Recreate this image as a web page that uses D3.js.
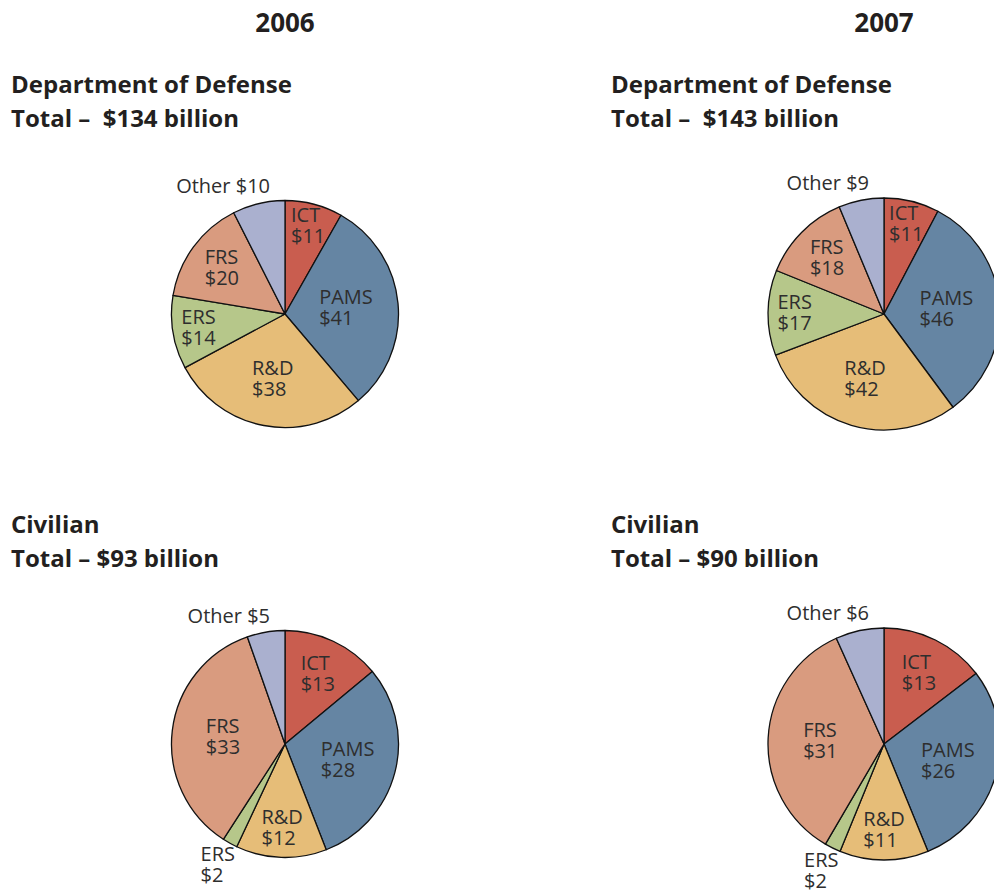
<!DOCTYPE html>
<html lang="en">
<head>
<meta charset="utf-8">
<title>DoD and civilian spending, 2006-2007</title>
<script src="https://cdn.jsdelivr.net/npm/d3@7"></script>
<style>
  body { margin: 0; background: #fff; }
  svg { display: block; font-family: "Open Sans", sans-serif; }
  .head { font-weight: 700; fill: #231f20; white-space: pre; }
  .lbl { font-size: 20px; fill: #2e2e2e; }
</style>
</head>
<body>
<script>
// data
var categories = ["ICT", "PAMS", "R&D", "ERS", "FRS", "Other"];
var years = ["2006", "2007"];
var dod2006 = [11, 41, 38, 14, 20, 10];
var dod2007 = [11, 46, 42, 17, 18, 9];
var civ2006 = [13, 28, 12, 2, 33, 5];
var civ2007 = [13, 26, 11, 2, 31, 6];
var dodTotals = [134, 143];
var civTotals = [93, 90];

var colors = d3.scaleOrdinal()
    .domain(categories)
    .range(["#c95d4f", "#6585a3", "#e6bd78", "#b6c78a", "#d99b7f", "#aab0cf"]);

// where the label sits, as a fraction of the radius (Other goes above the pie)
var dodLabelR = [0.8, 0.54, 0.58, 0.77, 0.69, null];
var civLabelR = [0.68, 0.57, 0.74, 1.22, 0.55, null];

var width = 994, height = 894;
var colX = [285, 884];
var colText = [11, 611];
var radius = [113.5, 116];

var svg = d3.select("body").append("svg")
    .attr("width", width)
    .attr("height", height);

var pie = d3.pie().sort(null).value(function(d) { return d; });

years.forEach(function(y, i) {
    svg.append("text")
        .attr("class", "head")
        .attr("x", colX[i])
        .attr("y", 32)
        .attr("text-anchor", "middle")
        .style("font-size", "26px")
        .text(y);
});

var panels = [
    {title: "Department of Defense", total: "Total \u2013  $" + dodTotals[0] + " billion", values: dod2006, col: 0, ty: 93, cy: 314, lr: dodLabelR},
    {title: "Department of Defense", total: "Total \u2013  $" + dodTotals[1] + " billion", values: dod2007, col: 1, ty: 93, cy: 314, lr: dodLabelR},
    {title: "Civilian", total: "Total \u2013 $" + civTotals[0] + " billion", values: civ2006, col: 0, ty: 533, cy: 744, lr: civLabelR},
    {title: "Civilian", total: "Total \u2013 $" + civTotals[1] + " billion", values: civ2007, col: 1, ty: 533, cy: 744, lr: civLabelR}
];

panels.forEach(function(p) {
    var r = radius[p.col];
    var cx = colX[p.col];

    svg.append("text").attr("class", "head")
        .attr("x", colText[p.col]).attr("y", p.ty)
        .style("font-size", "24px")
        .text(p.title);
    svg.append("text").attr("class", "head")
        .attr("x", colText[p.col]).attr("y", p.ty + 34)
        .style("font-size", "24px")
        .text(p.total);

    var arc = d3.arc().innerRadius(0).outerRadius(r);
    var g = svg.append("g").attr("transform", "translate(" + cx + "," + p.cy + ")");
    var arcs = pie(p.values);

    g.selectAll("path")
        .data(arcs)
        .enter().append("path")
        .attr("d", arc)
        .attr("fill", function(d, i) { return colors(categories[i]); })
        .attr("stroke", "#111")
        .attr("stroke-width", 1.3)
        .attr("stroke-linejoin", "round");

    arcs.forEach(function(d, i) {
        var name = categories[i];
        if (p.lr[i] == null) {
            // Other label sits just left of the top of the pie
            g.append("text").attr("class", "lbl")
                .attr("x", Math.sin(d.endAngle) * (r + 8) - 15)
                .attr("y", -Math.cos(d.endAngle) * (r + 8))
                .attr("text-anchor", "end")
                .text(name + " $" + d.value);
            return;
        }
        var k = p.lr[i] * r;
        var c = d3.arc().innerRadius(k).outerRadius(k).centroid(d);
        var t = g.append("text").attr("class", "lbl");
        t.append("tspan").attr("x", 0).attr("y", -4).text(name);
        t.append("tspan").attr("x", 0).attr("y", 17).text("$" + d.value);
        var w = t.node().getBBox().width;
        t.attr("transform", "translate(" + (c[0] - w / 2) + "," + c[1] + ")");
    });
});
</script>
</body>
</html>
